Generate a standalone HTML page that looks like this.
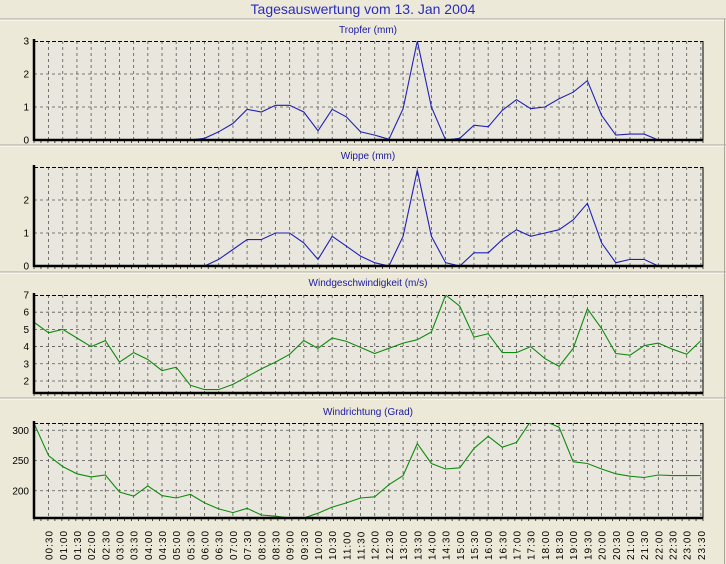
<!DOCTYPE html>
<html><head><meta charset="utf-8"><style>
html,body{margin:0;padding:0;background:#ECE9D8;width:726px;height:564px;overflow:hidden}
svg{display:block;font-family:"Liberation Sans",sans-serif}
</style></head><body>
<svg id="s" width="726" height="564" xmlns="http://www.w3.org/2000/svg"></svg>
<script>
const s=document.getElementById('s');let h='';
const X0=34,X1=703,x=i=>34.4+14.18*i;
h+='<text x="363" y="14" text-anchor="middle" font-size="14" fill="#2B2BC0">Tagesauswertung vom 13. Jan 2004</text>';
[19,145,272,398].forEach(y=>{h+=`<line x1="0" y1="${y}" x2="726" y2="${y}" stroke="#ACA899"/><line x1="0" y1="${y+1}" x2="726" y2="${y+1}" stroke="#fff"/>`});
h+='<line x1="724.5" y1="19" x2="724.5" y2="564" stroke="#ACA899"/>';
function panel(title,ty,top,bot,vmin,vmax,ticks,data,col,dash){
 const Y=v=>bot-(v-vmin)/(vmax-vmin)*(bot-top);
 h+=`<text x="368" y="${ty}" text-anchor="middle" font-size="10" fill="#1A1AA0">${title}</text>`;
 h+=`<rect x="${X0}" y="${top}" width="${X1-X0}" height="${bot-top}" fill="#E9E7DD"/>`;
 for(let i=1;i<48;i++)h+=`<line x1="${x(i)}" y1="${top}" x2="${x(i)}" y2="${bot}" stroke="#555" stroke-dasharray="3,3" stroke-width="0.8"/>`;
 ticks.forEach(t=>{const y=Y(t);if(y>top+1&&y<bot-1)h+=`<line x1="${X0}" y1="${y}" x2="${X1}" y2="${y}" stroke="#555" stroke-dasharray="3,3" stroke-width="0.8"/>`;
  h+=`<text x="${X0-5}" y="${y+3.5}" text-anchor="end" font-size="10" fill="#000">${t}</text>`;});
 for(let i=0;i<=96;i++){const xx=X0+i*(X1-X0)/96;h+=`<line x1="${xx}" y1="${bot}" x2="${xx}" y2="${bot+3}" stroke="#000" stroke-width="0.7"/>`}
 h+=`<line x1="${X0}" y1="${top+0.5}" x2="${X1}" y2="${top+0.5}" stroke="#000" stroke-dasharray="4,2"/>`;
 h+=`<line x1="${X1}" y1="${top}" x2="${X1}" y2="${bot}" stroke="#000"/>`;
 h+=`<clipPath id="c${top}"><rect x="${X0}" y="${top}" width="${X1-X0}" height="${bot-top}"/></clipPath>`;
 let pts=[];data.forEach((v,i)=>{if(v!==null)pts.push(x(i).toFixed(1)+','+Y(v).toFixed(1))});
 h+=`<polyline clip-path="url(#c${top})" points="${pts.join(' ')}" fill="none" stroke="${col}" stroke-width="1.1"/>`;
 h+=`<line x1="${X0}" y1="${bot}" x2="${X1}" y2="${bot}" stroke="#000" stroke-width="2.5"/>`;
 h+=`<line x1="${X0}" y1="${top-2}" x2="${X0}" y2="${bot+1}" stroke="#000" stroke-width="2.5"/>`;
}
const n=null;
const z=a=>a;
let trop=[n,n,n,n,n,n,n,n,n,n,n,0,0.05,0.25,0.5,0.93,0.85,1.05,1.05,0.85,0.28,0.93,0.7,0.25,0.15,0.02,0.95,3.0,1.0,0,0.05,0.45,0.4,0.9,1.22,0.95,1.0,1.25,1.45,1.8,0.75,0.15,0.18,0.18,0,n,n,n];
let wip=[n,n,n,n,n,n,n,n,n,n,n,n,0,0.2,0.5,0.8,0.8,1.0,1.0,0.7,0.2,0.9,0.6,0.3,0.1,0,0.9,2.9,0.9,0.1,0,0.4,0.4,0.8,1.1,0.9,1.0,1.1,1.4,1.9,0.7,0.1,0.2,0.2,0,n,n,n];
let ws=[5.4,4.8,5.0,4.5,4.0,4.35,3.1,3.65,3.25,2.6,2.8,1.75,1.5,1.5,1.8,2.25,2.7,3.1,3.55,4.35,3.9,4.5,4.3,3.95,3.6,3.9,4.2,4.4,4.85,7.0,6.35,4.55,4.75,3.65,3.65,4.0,3.3,2.85,3.9,6.2,5.05,3.6,3.5,4.05,4.2,3.85,3.55,4.35];
let wd=[310,258,240,228,223,226,198,191,208,192,188,194,180,170,164,171,160,158,155,155,163,173,180,188,190,210,225,278,245,236,238,270,290,272,280,315,315,305,248,245,236,228,224,222,226,225,225,225];
panel('Tropfer (mm)',33,41,140,0,3,[0,1,2,3],trop,'#2020B8');
panel('Wippe (mm)',159,167,266,0,3,[0,1,2],wip,'#2020B8');
panel('Windgeschwindigkeit (m/s)',286,295,393,1.3,7,[2,3,4,5,6,7],ws,'#108A10');
panel('Windrichtung (Grad)',415,423,518,155,312,[200,250,300],wd,'#108A10');
for(let i=1;i<48;i++){const hh=String(Math.floor(i/2)).padStart(2,'0')+':'+(i%2?'30':'00');
 h+=`<text transform="translate(${x(i)+4},560) rotate(-90)" font-size="10" fill="#000" letter-spacing="1">${hh}</text>`;}
s.innerHTML=h;
</script>
</body></html>
